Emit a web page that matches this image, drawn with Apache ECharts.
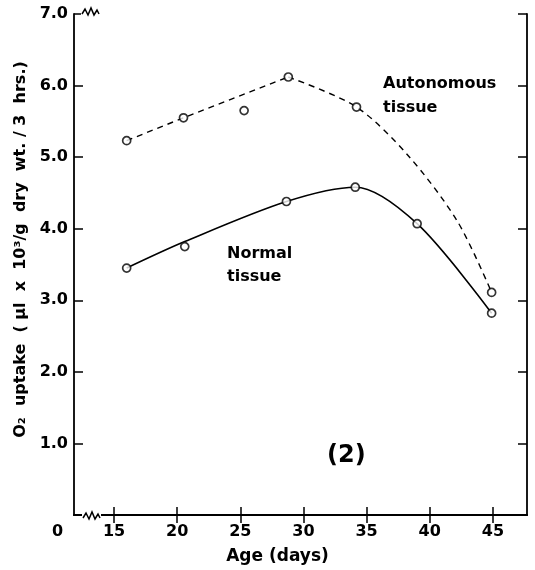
<!DOCTYPE html>
<html>
<head>
<meta charset="utf-8">
<script src="https://cdn.jsdelivr.net/npm/echarts@6/dist/echarts.min.js"></script>
<style>html,body{margin:0;padding:0;background:#fff;} #c{width:535px;height:570px;}</style>
</head>
<body>
<div id="c"></div>
<script>
// Observed points (Age in days, O2 uptake)
const autonomousPoints = [[16.0,5.23],[20.5,5.55],[25.3,5.65],[28.8,6.12],[34.2,5.70],[44.9,3.11]];
const normalPoints = [[16.0,3.45],[20.6,3.75],[28.65,4.38],[34.1,4.58],[39.0,4.07],[44.9,2.82]];
// Hand-drawn fitted curves
const autonomousRise = [[16.0,5.23],[20.5,5.55],[28.8,6.12]];
const autonomousFall = [[28.8,6.12],[34.2,5.70],[38.3,5.02],[42.2,4.10],[44.9,3.11]];
const normalCurve = [[16.0,3.45],[20.6,3.82],[28.65,4.38],[34.1,4.58],[39.0,4.07],[44.9,2.82]];
const xTicks = [15,20,25,30,35,40,45];
const yTicks = [1,2,3,4,5,6,7];

const FONT = 'DejaVu Sans';
const chart = echarts.init(document.getElementById('c'), null, {renderer:'canvas'});
const axisLineStyle = {color:'#000', width:1.8};
const tickStyle = {color:'#000', width:1.5};
const option = {
  animation:false,
  backgroundColor:'#fff',
  grid:{left:74, right:8, top:14, bottom:52},
  xAxis:[{
    type:'value', min:11.83, max:47.7, position:'bottom',
    name:'Age (days)', nameLocation:'middle', nameGap:33,
    nameTextStyle:{fontFamily:FONT, fontWeight:'bold', fontSize:17, color:'#000', padding:[0,46,0,0]},
    axisLine:{show:true, lineStyle:axisLineStyle},
    axisTick:{show:true, inside:true, length:8, lineStyle:tickStyle, customValues:xTicks},
    axisLabel:{show:true, margin:9, fontFamily:FONT, fontWeight:'bold', fontSize:16, color:'#000', customValues:xTicks},
    splitLine:{show:false}
  },{
    type:'value', min:11.83, max:47.7, position:'top',
    axisLine:{show:true, lineStyle:axisLineStyle},
    axisTick:{show:true, inside:true, length:8, lineStyle:tickStyle, customValues:xTicks},
    axisLabel:{show:false},
    splitLine:{show:false}
  }],
  yAxis:[{
    type:'value', min:0, max:7, interval:1, position:'left',
    name:'O\u2082  uptake  ( \u03bcl  x  10\u00b3/g  dry  wt. / 3  hrs.)',
    nameLocation:'middle', nameGap:40, nameRotate:90,
    nameTextStyle:{fontFamily:FONT, fontWeight:'bold', fontSize:16, color:'#000', padding:[0,0,0,30]},
    axisLine:{show:true, lineStyle:axisLineStyle},
    axisTick:{show:true, inside:true, length:9, lineStyle:tickStyle, customValues:yTicks},
    axisLabel:{show:true, margin:6, fontFamily:FONT, fontWeight:'bold', fontSize:16, color:'#000',
      customValues:yTicks, formatter:v=>v.toFixed(1)},
    splitLine:{show:false}
  },{
    type:'value', min:0, max:7, interval:1, position:'right',
    axisLine:{show:true, lineStyle:axisLineStyle},
    axisTick:{show:true, inside:true, length:9, lineStyle:tickStyle, customValues:yTicks},
    axisLabel:{show:false},
    splitLine:{show:false}
  }],
  series:[
    {type:'line', data:autonomousRise, smooth:false, symbol:'none',
     lineStyle:{color:'#000', width:1.4, type:[6,5]}, z:2},
    {type:'line', data:autonomousFall, smooth:0.3, symbol:'none',
     lineStyle:{color:'#000', width:1.4, type:[6,5]}, z:2},
    {type:'line', data:normalCurve, smooth:0.3, symbol:'none',
     lineStyle:{color:'#000', width:1.6}, z:2},
    {type:'scatter', data:autonomousPoints, symbol:'circle', symbolSize:8,
     itemStyle:{color:'#fff', borderColor:'#000', borderWidth:1.7}, z:3},
    {type:'scatter', data:normalPoints, symbol:'circle', symbolSize:8,
     itemStyle:{color:'#fff', borderColor:'#000', borderWidth:1.7}, z:3}
  ]
};
chart.setOption(option);

// decorations: axis breaks, "0" label, annotations
const pTopLeft = chart.convertToPixel({xAxisIndex:0, yAxisIndex:0}, [11.83,7]);
const pBotLeft = chart.convertToPixel({xAxisIndex:0, yAxisIndex:0}, [11.83,0]);
function zig(x0, y0){
  return [[x0,y0],[x0+3,y0-5],[x0+6,y0+1],[x0+9,y0-6],[x0+12,y0+1],[x0+15,y0-4],[x0+17,y0]];
}
const tx = pTopLeft[0], ty = pTopLeft[1], bx = pBotLeft[0], by = pBotLeft[1];
chart.setOption({graphic:[
  {type:'rect', shape:{x:tx+7, y:ty-3, width:19, height:6}, style:{fill:'#fff'}, z:100},
  {type:'polyline', shape:{points:zig(tx+8, ty)}, style:{stroke:'#000', lineWidth:1.5, fill:null}, z:101},
  {type:'rect', shape:{x:bx+8, y:by-3, width:19, height:6}, style:{fill:'#fff'}, z:100},
  {type:'polyline', shape:{points:zig(bx+9, by+3)}, style:{stroke:'#000', lineWidth:1.5, fill:null}, z:101},
  {type:'text', left:52, top:524, style:{text:'0', font:'bold 16px "DejaVu Sans"', fill:'#000'}, z:101},
  {type:'text', left:383, top:72, style:{text:'Autonomous\ntissue', font:'bold 16px "DejaVu Sans"', fill:'#000', lineHeight:24}, z:101},
  {type:'text', left:227, top:242, style:{text:'Normal\ntissue', font:'bold 16px "DejaVu Sans"', fill:'#000', lineHeight:23}, z:101},
  {type:'text', left:327, top:444, style:{text:'(2)', font:'bold 24px "DejaVu Sans"', fill:'#000'}, z:101}
]});
</script>
</body>
</html>
